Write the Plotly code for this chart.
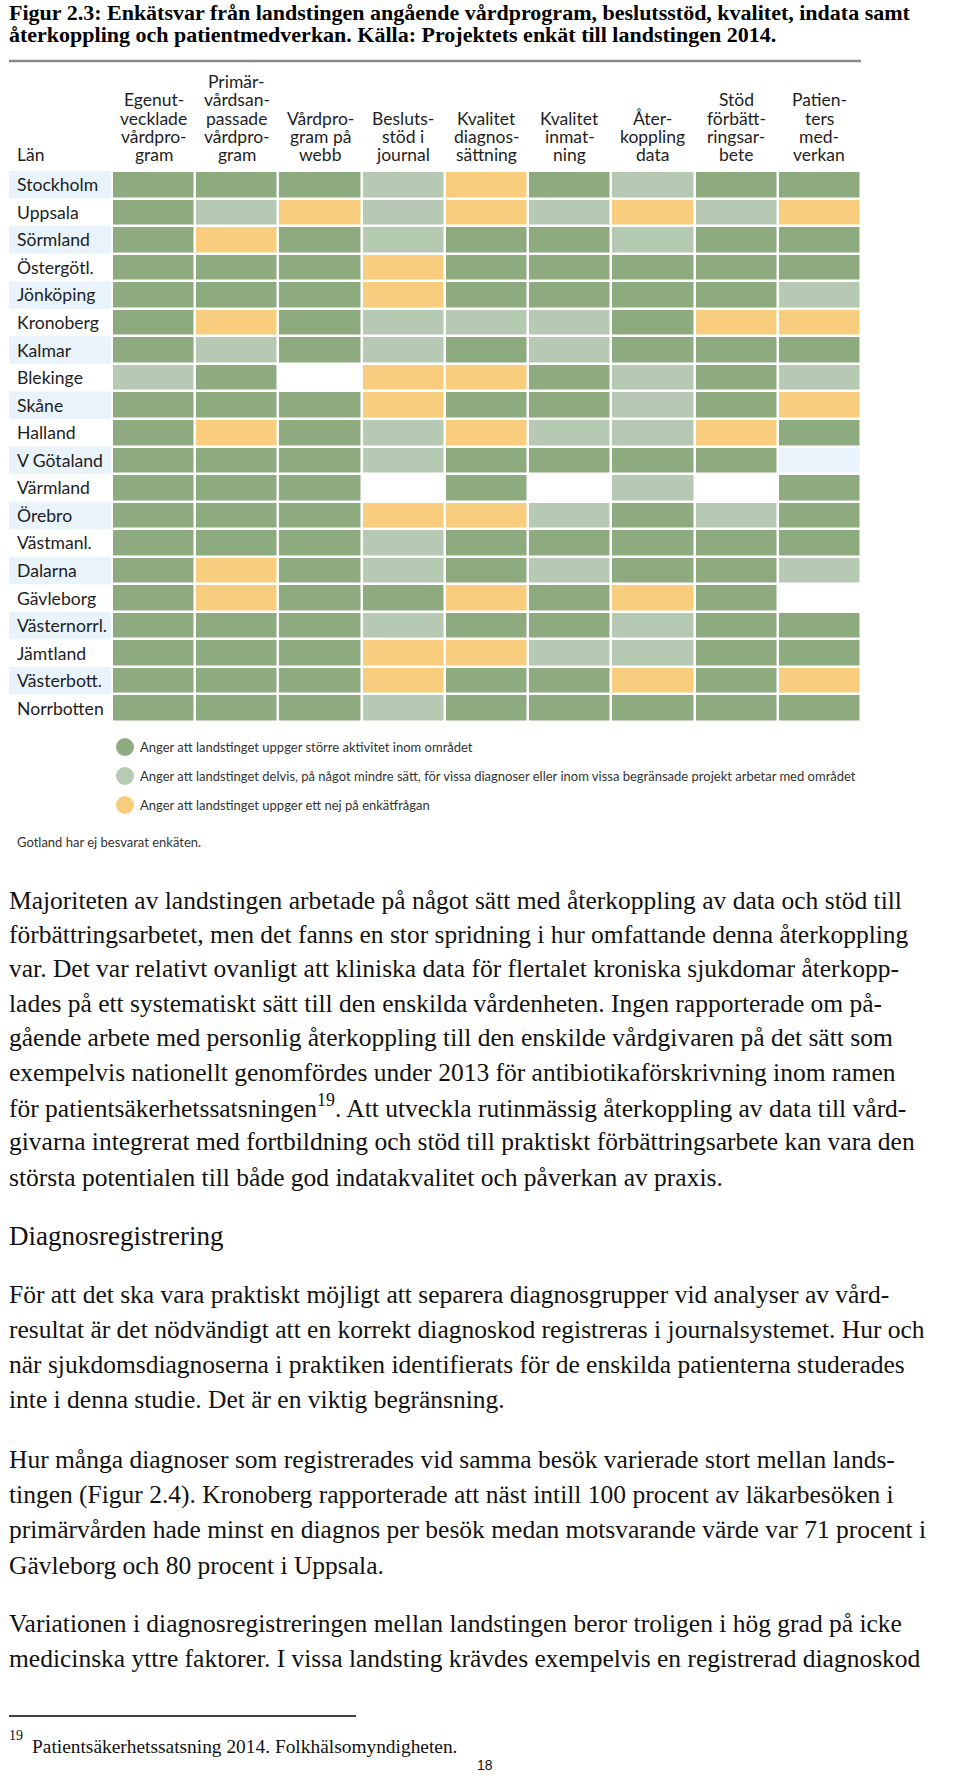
import plotly.graph_objects as go

W, H = 960, 1776

# ---------------- data ----------------
lan = ["Stockholm", "Uppsala", "Sörmland", "Östergötl.", "Jönköping", "Kronoberg",
       "Kalmar", "Blekinge", "Skåne", "Halland", "V Götaland", "Värmland", "Örebro",
       "Västmanl.", "Dalarna", "Gävleborg", "Västernorrl.", "Jämtland", "Västerbott.",
       "Norrbotten"]

areas = ["Egenut-\nvecklade\nvårdpro-\ngram",
         "Primär-\nvårdsan-\npassade\nvårdpro-\ngram",
         "Vårdpro-\ngram på\nwebb",
         "Besluts-\nstöd i\njournal",
         "Kvalitet\ndiagnos-\nsättning",
         "Kvalitet\ninmat-\nning",
         "Åter-\nkoppling\ndata",
         "Stöd\nförbätt-\nringsar-\nbete",
         "Patien-\nters\nmed-\nverkan"]

# 0 = ej svar (vit), 1 = större aktivitet, 2 = delvis, 3 = nej, 4 = oklart (ljusblå)
answers = [
    [1, 1, 1, 2, 3, 1, 2, 1, 1],  # Stockholm
    [1, 2, 3, 2, 3, 2, 3, 2, 3],  # Uppsala
    [1, 3, 1, 2, 1, 1, 2, 1, 1],  # Sörmland
    [1, 1, 1, 3, 1, 1, 1, 1, 1],  # Östergötl.
    [1, 1, 1, 3, 1, 1, 1, 1, 2],  # Jönköping
    [1, 3, 1, 2, 2, 2, 1, 3, 3],  # Kronoberg
    [1, 2, 1, 2, 1, 2, 1, 1, 1],  # Kalmar
    [2, 1, 0, 3, 3, 1, 2, 1, 2],  # Blekinge
    [1, 1, 1, 3, 1, 1, 2, 1, 3],  # Skåne
    [1, 3, 1, 2, 3, 2, 2, 3, 1],  # Halland
    [1, 1, 1, 2, 1, 1, 1, 1, 4],  # V Götaland
    [1, 1, 1, 0, 1, 0, 2, 0, 1],  # Värmland
    [1, 1, 1, 3, 3, 2, 1, 2, 1],  # Örebro
    [1, 1, 1, 2, 1, 1, 1, 1, 1],  # Västmanl.
    [1, 3, 1, 2, 1, 2, 1, 1, 2],  # Dalarna
    [1, 3, 1, 1, 3, 1, 3, 1, 0],  # Gävleborg
    [1, 1, 1, 2, 1, 1, 2, 1, 1],  # Västernorrl.
    [1, 1, 1, 3, 3, 2, 2, 1, 1],  # Jämtland
    [1, 1, 1, 3, 1, 1, 3, 1, 3],  # Västerbott.
    [1, 1, 1, 2, 1, 1, 1, 1, 1],  # Norrbotten
]

legend_texts = [
    "Anger att landstinget uppger större aktivitet inom området",
    "Anger att landstinget delvis, på något mindre sätt, för vissa diagnoser eller inom vissa begränsade projekt arbetar med området",
    "Anger att landstinget uppger ett nej på enkätfrågan",
]

title_lines = [
    "Figur 2.3: Enkätsvar från landstingen angående vårdprogram, beslutsstöd, kvalitet, indata samt",
    "återkoppling och patientmedverkan. Källa: Projektets enkät till landstingen 2014.",
]

body_lines = [
    ("Majoriteten av landstingen arbetade på något sätt med återkoppling av data och stöd till", 900),
    ("förbättringsarbetet, men det fanns en stor spridning i hur omfattande denna återkoppling", 934),
    ("var. Det var relativt ovanligt att kliniska data för flertalet kroniska sjukdomar återkopp-", 968),
    ("lades på ett systematiskt sätt till den enskilda vårdenheten. Ingen rapporterade om på-", 1003),
    ("gående arbete med personlig återkoppling till den enskilde vårdgivaren på det sätt som", 1037),
    ("exempelvis nationellt genomfördes under 2013 för antibiotikaförskrivning inom ramen", 1072),
    ("för patientsäkerhetssatsningen<sup>19</sup>. Att utveckla rutinmässig återkoppling av data till vård-", 1106),
    ("givarna integrerat med fortbildning och stöd till praktiskt förbättringsarbete kan vara den", 1141),
    ("största potentialen till både god indatakvalitet och påverkan av praxis.", 1177),
    ("För att det ska vara praktiskt möjligt att separera diagnosgrupper vid analyser av vård-", 1294),
    ("resultat är det nödvändigt att en korrekt diagnoskod registreras i journalsystemet. Hur och", 1329),
    ("när sjukdomsdiagnoserna i praktiken identifierats för de enskilda patienterna studerades", 1364),
    ("inte i denna studie. Det är en viktig begränsning.", 1399),
    ("Hur många diagnoser som registrerades vid samma besök varierade stort mellan lands-", 1459),
    ("tingen (Figur 2.4). Kronoberg rapporterade att näst intill 100 procent av läkarbesöken i", 1494),
    ("primärvården hade minst en diagnos per besök medan motsvarande värde var 71 procent i", 1529),
    ("Gävleborg och 80 procent i Uppsala.", 1565),
    ("Variationen i diagnosregistreringen mellan landstingen beror troligen i hög grad på icke", 1623),
    ("medicinska yttre faktorer. I vissa landsting krävdes exempelvis en registrerad diagnoskod", 1658),
]
heading = ("Diagnosregistrering", 1236)

# ---------------- styles ----------------
C_DARK = "#8eab80"
C_LIGHT = "#b6c9b2"
C_ORANGE = "#f9cd7e"
C_BLUE = "#e8f3fb"
SANS = "Lato, 'Open Sans', sans-serif"
SERIF = "'Liberation Serif', 'DejaVu Serif', serif"


def px(x):
    return x / W


def py(y):
    return 1 - y / H


col_keys = [a.replace("\n", " ") for a in areas]

colorscale = [
    [0.0, "#ffffff"], [0.2, "#ffffff"],
    [0.2, C_DARK], [0.4, C_DARK],
    [0.4, C_LIGHT], [0.6, C_LIGHT],
    [0.6, C_ORANGE], [0.8, C_ORANGE],
    [0.8, C_BLUE], [1.0, C_BLUE],
]

fig = go.Figure()
fig.add_trace(go.Heatmap(
    z=answers, x=col_keys, y=lan,
    zmin=-0.5, zmax=4.5, colorscale=colorscale, showscale=False,
    xgap=2.5, ygap=2.5, hoverinfo="skip",
))

grid_left, grid_right, grid_top, grid_bottom = 112, 861, 171, 722

fig.update_layout(
    width=W, height=H, margin=dict(l=0, r=0, t=0, b=0),
    paper_bgcolor="white", plot_bgcolor="white", showlegend=False,
    xaxis=dict(domain=[px(grid_left), px(grid_right)], showticklabels=False,
               showgrid=False, zeroline=False, fixedrange=True),
    yaxis=dict(domain=[py(grid_bottom), py(grid_top)], showticklabels=False,
               showgrid=False, zeroline=False, autorange="reversed", fixedrange=True),
)

shapes = []
annotations = []

# top rule
shapes.append(dict(type="line", xref="paper", yref="paper", x0=px(9), x1=px(861),
                   y0=py(61), y1=py(61), line=dict(color="#8a8a8a", width=2.5)))

# row label backgrounds + labels
for i, name in enumerate(lan):
    if i % 2 == 0:
        shapes.append(dict(type="rect", xref="paper", yref="y", x0=px(9), x1=px(111),
                           y0=i - 0.5, y1=i + 0.5, fillcolor=C_BLUE, line=dict(width=0),
                           layer="below"))
    annotations.append(dict(x=px(15), y=name, xref="paper", yref="y", text=name,
                            showarrow=False, xanchor="left", yanchor="middle",
                            font=dict(family=SANS, size=17.6, color="#1e1e1e")))

# header
HDR_SIZE, HDR_PITCH, HDR_LAST = 17.5, 18.4, 155
annotations.append(dict(x=px(15), y=py(HDR_LAST), xref="paper", yref="paper", text="Län",
                        showarrow=False, xanchor="left", yanchor="middle",
                        font=dict(family=SANS, size=HDR_SIZE, color="#1e1e1e")))
for key, a in zip(col_keys, areas):
    lines = a.split("\n")
    n = len(lines)
    for j, ln in enumerate(lines):
        yc = HDR_LAST - (n - 1 - j) * HDR_PITCH
        annotations.append(dict(x=key, y=py(yc), xref="x", yref="paper", text=ln,
                                showarrow=False, xanchor="center", yanchor="middle",
                                font=dict(family=SANS, size=HDR_SIZE, color="#1e1e1e")))

# legend
leg_cols = [C_DARK, C_LIGHT, C_ORANGE]
leg_y = [747, 776, 805]
for c, t, yy in zip(leg_cols, legend_texts, leg_y):
    shapes.append(dict(type="circle", xref="paper", yref="paper",
                       x0=px(116), x1=px(134), y0=py(yy - 9), y1=py(yy + 9),
                       fillcolor=c, line=dict(width=0)))
    annotations.append(dict(x=px(138), y=py(yy), xref="paper", yref="paper", text=t,
                            showarrow=False, xanchor="left", yanchor="middle",
                            font=dict(family=SANS, size=13, color="#333333")))
annotations.append(dict(x=px(15), y=py(842), xref="paper", yref="paper",
                        text="Gotland har ej besvarat enkäten.",
                        showarrow=False, xanchor="left", yanchor="middle",
                        font=dict(family=SANS, size=13, color="#333333")))

# title
for t, yy in zip(title_lines, [12, 35]):
    annotations.append(dict(x=px(7), y=py(yy), xref="paper", yref="paper",
                            text="<b>" + t + "</b>", showarrow=False,
                            xanchor="left", yanchor="middle",
                            font=dict(family=SERIF, size=22, color="#000000")))

# body text
for t, yy in body_lines:
    annotations.append(dict(x=px(7), y=py(yy), xref="paper", yref="paper", text=t,
                            showarrow=False, xanchor="left", yanchor="middle",
                            font=dict(family=SERIF, size=25.5, color="#111111")))
annotations.append(dict(x=px(7), y=py(heading[1]), xref="paper", yref="paper",
                        text=heading[0], showarrow=False, xanchor="left", yanchor="middle",
                        font=dict(family=SERIF, size=27, color="#111111")))

# footnote
shapes.append(dict(type="line", xref="paper", yref="paper", x0=px(9), x1=px(356),
                   y0=py(1716), y1=py(1716), line=dict(color="#000000", width=1.5)))
annotations.append(dict(x=px(7), y=py(1735), xref="paper", yref="paper", text="19",
                        showarrow=False, xanchor="left", yanchor="middle",
                        font=dict(family=SERIF, size=14, color="#111111")))
annotations.append(dict(x=px(30), y=py(1746), xref="paper", yref="paper",
                        text="Patientsäkerhetssatsning 2014. Folkhälsomyndigheten.",
                        showarrow=False, xanchor="left", yanchor="middle",
                        font=dict(family=SERIF, size=19.4, color="#111111")))
annotations.append(dict(x=px(485), y=py(1765), xref="paper", yref="paper", text="18",
                        showarrow=False, xanchor="center", yanchor="middle",
                        font=dict(family="'Liberation Sans', Arial, sans-serif", size=14,
                                  color="#111111")))

fig.update_layout(shapes=shapes, annotations=annotations)
# remove the browser's default 8px body margin so the page is drawn edge to edge
fig.write_html("out.html",
               config={"displayModeBar": False},
               post_script="document.body.style.margin='0';document.body.style.overflow='hidden';")
